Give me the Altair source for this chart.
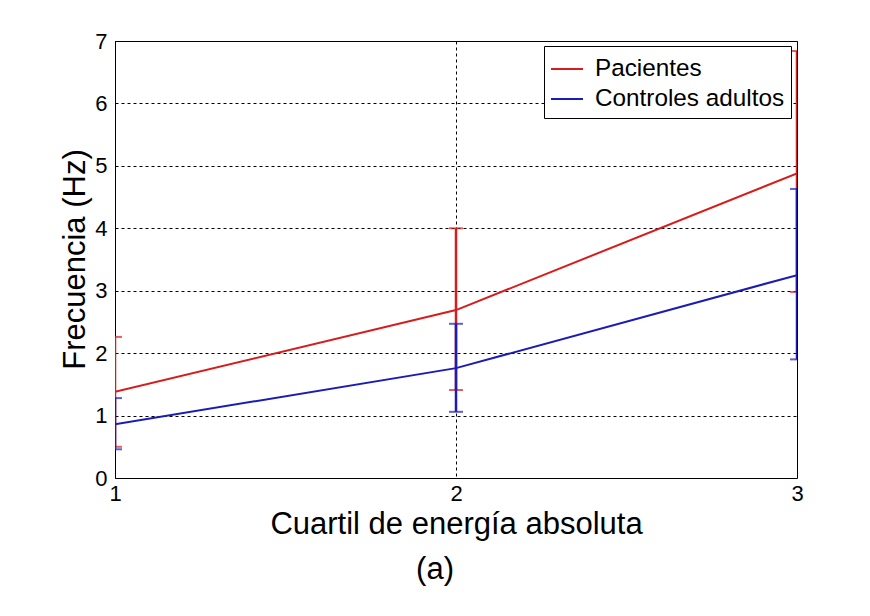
import altair as alt
import pandas as pd

# Data
quartiles = [1, 2, 3]
series_names = ["Pacientes", "Controles adultos"]
pac_mean = [1.38, 2.69, 4.88]
pac_lo = [0.50, 1.41, 2.98]
pac_hi = [2.26, 4.00, 6.84]
ctl_mean = [0.86, 1.76, 3.25]
ctl_lo = [0.46, 1.06, 1.90]
ctl_hi = [1.28, 2.47, 4.63]
y_ticks = [0, 1, 2, 3, 4, 5, 6, 7]

rows = []
for name, m, lo, hi in [(series_names[0], pac_mean, pac_lo, pac_hi),
                        (series_names[1], ctl_mean, ctl_lo, ctl_hi)]:
    for i, q in enumerate(quartiles):
        rows.append({"serie": name, "q": q, "mean": m[i], "lo": lo[i], "hi": hi[i]})
df = pd.DataFrame(rows)

FONT = "Liberation Sans"
RED = "#d81c1c"
BLUE = "#1c1cb4"

cscale = alt.Scale(domain=series_names, range=[RED, BLUE])
color = alt.Color("serie:N", scale=cscale,
                  legend=alt.Legend(title=None, orient="none", legendX=429, legendY=5,
                                    symbolType="stroke", symbolSize=1024, symbolStrokeWidth=2,
                                    labelFont=FONT, labelFontSize=24.3, labelColor="black",
                                    labelOffset=11, rowPadding=0, padding=6,
                                    strokeColor="black", fillColor="white",
                                    labelLimit=400))
color_nl = alt.Color("serie:N", scale=cscale, legend=None)

x_axis = alt.Axis(title="Cuartil de energía absoluta", labelAngle=0,
                  titleX=341, titleY=55, titleBaseline="alphabetic", titleAnchor="middle")
y_axis = alt.Axis(values=y_ticks, format="d", title="Frecuencia (Hz)",
                  titleX=-40, titleY=218, titleBaseline="middle", titleAngle=270,
                  titleAnchor="middle")

xscale = alt.Scale(type="point", domain=quartiles, padding=0)
yscale = alt.Scale(domain=[0, 7], nice=False)

base = alt.Chart(df)

def X():
    return alt.X("q:O", scale=xscale, axis=x_axis)

def Y(field):
    return alt.Y(f"{field}:Q", scale=yscale, axis=y_axis)

lines = base.mark_line(strokeWidth=2, clip=True).encode(
    x=X(), y=Y("mean"), color=color)

rules = base.mark_rule(strokeWidth=2.5, clip=True).encode(
    x=X(), y=Y("lo"), y2="hi:Q", color=color_nl)

cap_lo = base.mark_tick(orient="horizontal", size=14, thickness=2, clip=True).encode(
    x=X(), y=Y("lo"), color=color_nl)
cap_hi = base.mark_tick(orient="horizontal", size=14, thickness=2, clip=True).encode(
    x=X(), y=Y("hi"), color=color_nl)

pac_layers = [m.transform_filter(alt.datum.serie == series_names[0]) for m in (lines, rules, cap_lo, cap_hi)]
ctl_layers = [m.transform_filter(alt.datum.serie == series_names[1]) for m in (lines, rules, cap_lo, cap_hi)]

chart = alt.layer(*pac_layers, *ctl_layers).properties(
    width=682, height=437,
    autosize=alt.AutoSizeParams(type="none"),
    padding={"left": 107, "top": 33, "right": 60, "bottom": 120},
    title=alt.TitleParams("(a)", orient="bottom", anchor="middle", dx=-21, offset=16,
                          font=FONT, fontSize=31, fontWeight="normal", color="black"),
).configure_view(stroke="black", strokeWidth=1).configure_axis(
    grid=True, gridColor="black", gridDash=[3, 3], gridOpacity=1, gridWidth=1,
    ticks=False, domain=False, labelFont=FONT, labelFontSize=22, labelColor="black",
    labelFlush=False, labelOverlap=False, titleFont=FONT, titleFontSize=31,
    titleFontWeight="normal", titleColor="black"
).configure_axisX(labelPadding=5).configure_axisY(labelPadding=8)

chart.save("out.html", embed_options={"renderer": "svg", "actions": False})
